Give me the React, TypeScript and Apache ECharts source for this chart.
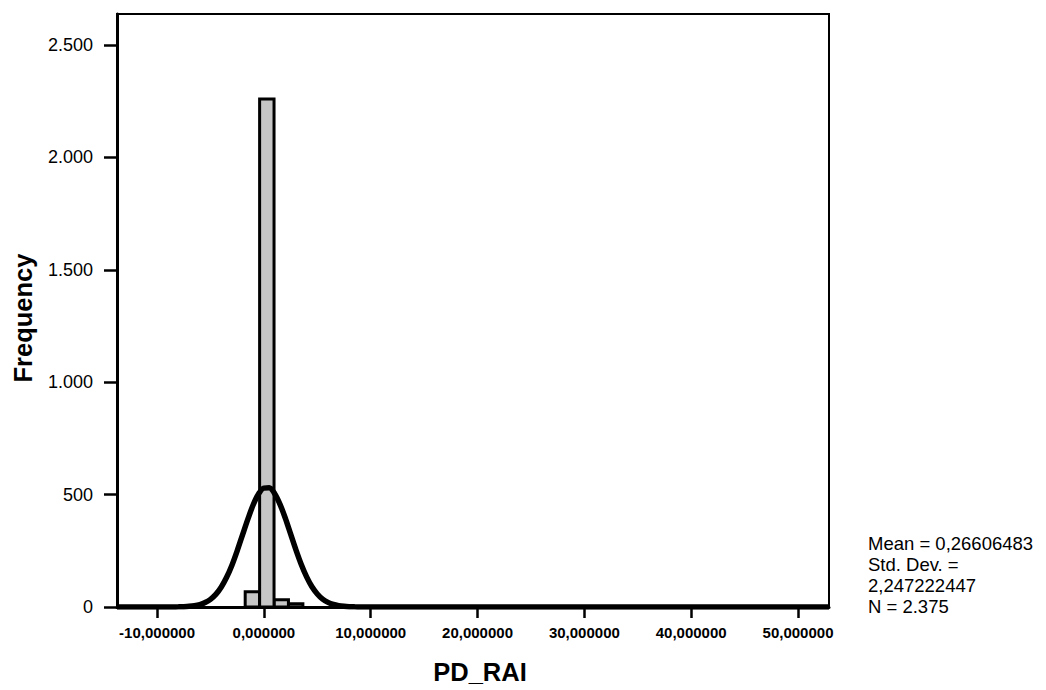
import React, { useEffect, useRef } from "react";
import * as echarts from "echarts";

// Histogram bins: [start, end] and frequency
const binStarts = [-1.75, 0.95, 2.3, -0.4];
const binEnds = [-0.4, 2.3, 3.65, 0.95];
const binCounts = [68, 32, 15, 2260];

// Normal curve (x, frequency)
const curveX = [-13.75, -9, -8.5, -8, -7.5, -7, -6.5, -6, -5.5, -5, -4.5, -4, -3.5, -3, -2.5, -2, -1.5, -1, -0.5, 0, 0.5, 1, 1.5, 2, 2.5, 3, 3.5, 4, 4.5, 5, 5.5, 6, 6.5, 7, 7.5, 8, 8.5, 9, 10, 52.9];
const curveY = [0, 0.1, 0.3, 0.6, 1.4, 2.9, 5.7, 10.9, 19.8, 34, 56, 88, 131, 185, 250, 321, 391, 455, 503, 529, 530, 505, 458, 396, 325, 254, 189, 134, 90, 58, 35, 20.6, 11.4, 6, 3, 1.4, 0.65, 0.3, 0, 0];

const xTickValues = [-10, 0, 10, 20, 30, 40, 50];
const xTickLabels = ["-10,000000", "0,000000", "10,000000", "20,000000", "30,000000", "40,000000", "50,000000"];
const yTickValues = [0, 500, 1000, 1500, 2000, 2500];
const yTickLabels = ["0", "500", "1.000", "1.500", "2.000", "2.500"];

const statsLines = ["Mean = 0,26606483", "Std. Dev. =", "2,247222447", "N = 2.375"];

const FONT = "'Liberation Sans', Arial, Helvetica, sans-serif";

export default function App() {
  const ref = useRef<HTMLDivElement>(null);
  useEffect(() => {
    if (!ref.current) return;
    const chart = echarts.init(ref.current, null, { renderer: "svg" });
    const barData = binStarts.map((s, i) => [s, binEnds[i], binCounts[i]]);
    const curveData = curveX.map((x, i) => [x, curveY[i]]);
    chart.setOption({
      animation: false,
      backgroundColor: "#ffffff",
      grid: {
        left: 117,
        top: 14,
        width: 712,
        height: 593,
        show: true,
        borderColor: "#000",
        borderWidth: 2,
        backgroundColor: "transparent",
      },
      xAxis: {
        type: "value",
        min: -13.75,
        max: 52.9,
        axisLine: { show: true, onZero: false, lineStyle: { color: "#000", width: 3 } },
        axisTick: {
          show: true,
          customValues: xTickValues,
          length: 11,
          inside: false,
          lineStyle: { color: "#000", width: 2.5 },
        },
        axisLabel: {
          customValues: xTickValues,
          margin: 18,
          color: "#000",
          fontFamily: FONT,
          fontWeight: "bold",
          fontSize: 15,
          formatter: (v: number) => {
            const i = xTickValues.indexOf(Math.round(v));
            return i >= 0 ? xTickLabels[i] : "";
          },
        },
        splitLine: { show: false },
      },
      yAxis: {
        type: "value",
        min: 0,
        max: 2638,
        axisLine: { show: true, onZero: false, lineStyle: { color: "#000", width: 3 } },
        axisTick: {
          show: true,
          customValues: yTickValues,
          length: 13,
          inside: false,
          lineStyle: { color: "#000", width: 2.5 },
        },
        axisLabel: {
          customValues: yTickValues,
          margin: 24,
          color: "#000",
          fontFamily: FONT,
          fontSize: 18,
          formatter: (v: number) => {
            const i = yTickValues.indexOf(Math.round(v));
            return i >= 0 ? yTickLabels[i] : "";
          },
        },
        splitLine: { show: false },
      },
      series: [
        {
          type: "custom",
          data: barData,
          encode: { x: [0, 1], y: 2 },
          z: 2,
          renderItem: (params: any, api: any) => {
            const p0 = api.coord([api.value(0), api.value(2)]);
            const p1 = api.coord([api.value(1), 0]);
            return {
              type: "rect",
              shape: { x: p0[0], y: p0[1], width: p1[0] - p0[0], height: p1[1] - p0[1] },
              style: { fill: "#c6c6c6", stroke: "#000", lineWidth: 3 },
            };
          },
        },
        {
          type: "line",
          data: curveData,
          smooth: 0.3,
          symbol: "none",
          z: 5,
          lineStyle: { color: "#000", width: 5.5 },
        },
      ],
      graphic: [
        {
          type: "text",
          x: 23,
          y: 318,
          rotation: Math.PI / 2,
          style: {
            text: "Frequency",
            fill: "#000",
            font: `bold 25.5px ${FONT}`,
            align: "center",
            verticalAlign: "middle",
          },
        },
        {
          type: "text",
          x: 480,
          y: 672,
          style: {
            text: "PD_RAI",
            fill: "#000",
            font: `bold 25.5px ${FONT}`,
            align: "center",
            verticalAlign: "middle",
          },
        },
        ...statsLines.map((t, i) => ({
          type: "text",
          x: 868,
          y: 543 + i * 21,
          style: {
            text: t,
            fill: "#000",
            font: `18.5px ${FONT}`,
            align: "left",
            verticalAlign: "middle",
          },
        })),
      ],
    });
    return () => chart.dispose();
  }, []);
  return (
    <div
      ref={ref}
      style={{ position: "absolute", left: 0, top: 0, width: 1046, height: 690 }}
    />
  );
}
